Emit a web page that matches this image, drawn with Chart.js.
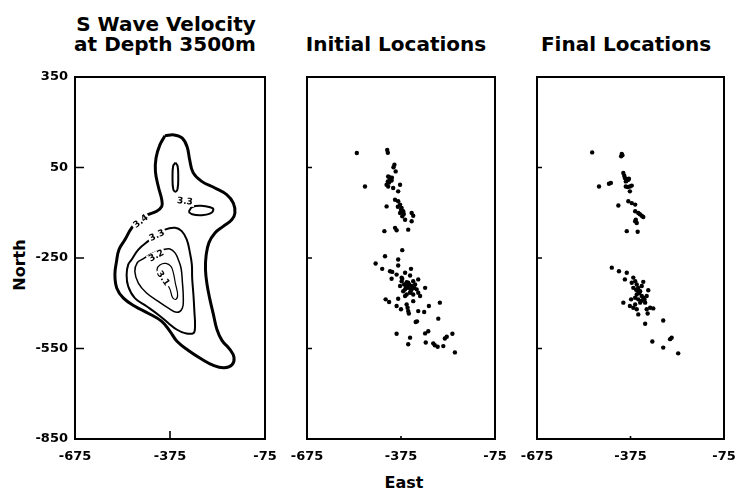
<!DOCTYPE html>
<html><head><meta charset="utf-8">
<script src="https://cdn.jsdelivr.net/npm/chart.js@4.4.1/dist/chart.umd.min.js"></script>
<style>
html,body{margin:0;padding:0;background:#fff;width:736px;height:492px;overflow:hidden;position:relative;}
canvas{position:absolute;left:0;top:0;}
.t{position:absolute;font-family:"DejaVu Sans";font-weight:bold;font-size:20px;line-height:20px;color:#000;text-align:center;white-space:nowrap;width:260px;}
.a{position:absolute;font-family:"DejaVu Sans";font-weight:bold;font-size:16px;line-height:16px;color:#000;white-space:nowrap;transform:translate(-50%,-50%);}
</style></head><body>
<div class="t" style="left:36px;top:14px">S Wave Velocity</div>
<div class="t" style="left:35px;top:34px">at Depth 3500m</div>
<div class="t" style="left:266px;top:34px">Initial Locations</div>
<div class="t" style="left:496px;top:34px">Final Locations</div>
<div class="a" style="left:20px;top:265px;transform:translate(-50%,-50%) rotate(-90deg)">North</div>
<div class="a" style="left:404px;top:483px">East</div>
<canvas id="c1" width="736" height="492"></canvas>
<canvas id="c2" width="736" height="492"></canvas>
<canvas id="c3" width="736" height="492"></canvas>
<script>
// ---- tick labels ----
const yTicks = [350, 50, -250, -550, -850];
const xTicks = [-675, -375, -75];
const yMarks = [50, -250, -550];
const xMarks = [-375];

// ---- contours of S wave velocity (East, North) ----
const contour34 = [[-391,155],[-362,158],[-337,148],[-321,119],[-313,76],[-302,33],[-275,4],[-233,-18],[-196,-40],[-175,-68],[-170,-101],[-180,-123],[-207,-145],[-233,-167],[-252,-199],[-261,-242],[-263,-288],[-258,-338],[-249,-387],[-238,-437],[-227,-486],[-211,-523],[-186,-553],[-173,-579],[-179,-604],[-204,-614],[-236,-607],[-277,-584],[-318,-556],[-353,-526],[-375,-493],[-401,-460],[-444,-433],[-486,-410],[-522,-383],[-543,-350],[-549,-305],[-544,-262],[-536,-222],[-517,-189],[-496,-150],[-470,-123],[-444,-106],[-417,-95],[-401,-79],[-401,-57],[-412,-13],[-421,36],[-419,82],[-407,125],[-391,155]];
const contour33 = [[-419,-176],[-391,-156],[-359,-150],[-338,-161],[-322,-189],[-312,-233],[-306,-272],[-305,-317],[-301,-372],[-298,-427],[-296,-477],[-301,-499],[-328,-499],[-354,-487],[-380,-466],[-412,-438],[-449,-410],[-486,-383],[-507,-344],[-512,-306],[-507,-272],[-496,-255],[-475,-222],[-444,-194],[-419,-176]];
const contour32 = [[-419,-229],[-396,-222],[-375,-220],[-359,-233],[-349,-255],[-340,-284],[-336,-328],[-333,-383],[-336,-416],[-353,-430],[-380,-416],[-412,-394],[-449,-366],[-475,-333],[-486,-295],[-478,-265],[-460,-253],[-438,-238],[-419,-229]];
const contour31 = [[-407,-318],[-416,-288],[-407,-273],[-388,-268],[-372,-278],[-364,-301],[-358,-334],[-351,-371],[-356,-387],[-367,-381],[-375,-354],[-388,-331],[-407,-318]];
const contour33a = [[-358,66],[-351,55],[-349,18],[-351,-20],[-358,-30],[-365,-20],[-367,18],[-365,55],[-358,66]];
const contour33b = [[-316,-97],[-305,-81],[-277,-77],[-248,-82],[-238,-89],[-249,-103],[-277,-108],[-305,-105],[-316,-97]];
const contourLabels = ['3.4','3.3','3.2','3.1','3.3'];
const contourLabelAt = [[-467,-129],[-416,-176],[-418,-243],[-397,-318],[-328,-63]];

// ---- initial event locations (East, North) ----
const initialLoc = [[-516,98],[-419,108],[-417,99],[-396,59],[-399,51],[-392,37],[-416,20],[-410,12],[-405,7],[-417,4],[-404,16],[-413,0],[-408,10],[-412,18],[-421,-7],[-416,-13],[-400,-18],[-378,-7],[-384,-29],[-490,-13],[-394,-57],[-384,-62],[-378,-73],[-373,-84],[-368,-95],[-375,-90],[-366,-104],[-378,-101],[-371,-112],[-362,-123],[-385,-80],[-341,-101],[-336,-110],[-421,-79],[-341,-128],[-352,-156],[-394,-150],[-389,-158],[-428,-161],
[-371,-224],[-426,-244],[-384,-255],[-456,-268],[-384,-275],[-435,-286],[-410,-294],[-403,-296],[-343,-286],[-389,-305],[-362,-299],[-405,-319],[-373,-315],[-346,-308],
[-373,-327],[-365,-338],[-357,-330],[-378,-343],[-352,-349],[-362,-354],[-341,-343],[-330,-338],[-325,-354],[-346,-365],[-357,-371],[-336,-371],[-320,-365],[-352,-332],[-368,-360],[-371,-319],[-341,-354],[-354,-343],[-336,-327],[-362,-376],[-349,-338],[-344,-360],[-359,-348],[-333,-349],
[-320,-321],[-298,-349],[-314,-376],[-424,-387],[-413,-396],[-384,-385],[-389,-409],[-375,-420],[-357,-404],[-354,-415],[-352,-426],[-350,-434],[-336,-393],[-320,-426],[-301,-429],[-286,-409],[-251,-398],[-256,-451],[-328,-462],[-324,-460],[-389,-501],[-346,-514],[-298,-500],[-288,-493],[-235,-517],[-229,-511],[-211,-501],[-352,-536],[-296,-530],[-272,-533],[-267,-539],[-258,-544],[-240,-542],[-203,-563]];

// ---- final event locations (East, North) ----
const finalLoc = [[-498,100],[-403,95],[-405,87],[-401,91],[-398,32],[-395,23],[-393,15],[-387,12],[-382,9],[-390,4],[-388,6],[-380,13],[-377,-13],[-371,-10],[-384,-15],[-390,-13],[-377,-29],[-476,-13],[-444,-4],[-438,-1],[-414,-76],[-382,-62],[-371,-68],[-360,-73],[-360,-95],[-350,-101],[-345,-105],[-339,-110],[-334,-114],[-360,-128],[-355,-134],[-358,-123],[-387,-161],[-352,-163],
[-435,-282],[-412,-294],[-387,-299],[-393,-321],[-366,-315],
[-371,-332],[-360,-327],[-355,-338],[-350,-349],[-366,-349],[-344,-360],[-355,-371],[-339,-376],[-350,-387],[-334,-382],[-323,-376],[-360,-382],[-344,-398],[-328,-398],[-350,-360],[-339,-343],[-347,-366],[-357,-355],[-340,-392],[-330,-388],
[-334,-329],[-318,-357],[-398,-398],[-373,-387],[-377,-409],[-366,-415],[-355,-420],[-350,-437],[-360,-404],[-323,-420],[-312,-415],[-302,-417],[-320,-434],[-328,-468],[-270,-457],[-305,-527],[-248,-519],[-243,-514],[-270,-547],[-222,-566]];

// ---- rendering ----
const FONT = 'DejaVu Sans';
const toXY = arr => arr.map(p => ({x: p[0], y: p[1]}));

const framePlugin = {
  id: 'frame',
  afterDraw(chart, args, o) {
    const a = chart.chartArea, ctx = chart.ctx;
    const xs = chart.scales.x, ys = chart.scales.y;
    ctx.save();
    ctx.strokeStyle = '#000';
    ctx.lineWidth = 2;
    ctx.strokeRect(a.left, a.top, a.right - a.left, a.bottom - a.top);
    ctx.lineWidth = 1.6;
    ctx.beginPath();
    yMarks.forEach(v => { const py = ys.getPixelForValue(v); ctx.moveTo(a.left, py); ctx.lineTo(a.left + o.yLen, py); });
    xMarks.forEach(v => { const px = xs.getPixelForValue(v); ctx.moveTo(px, a.bottom); ctx.lineTo(px, a.bottom - o.xLen); });
    ctx.stroke();
    ctx.restore();
  }
};

const labelRot = [-38, -25, -28, 55, 6];
const labelPlugin = {
  id: 'clabels',
  afterDatasetsDraw(chart) {
    const ctx = chart.ctx, xs = chart.scales.x, ys = chart.scales.y;
    ctx.save();
    ctx.font = 'bold 9px "' + FONT + '"';
    ctx.textAlign = 'center';
    ctx.textBaseline = 'middle';
    contourLabels.forEach((t, i) => {
      const px = xs.getPixelForValue(contourLabelAt[i][0]);
      const py = ys.getPixelForValue(contourLabelAt[i][1]);
      ctx.save();
      ctx.translate(px, py);
      ctx.rotate(labelRot[i] * Math.PI / 180);
      const w = ctx.measureText(t).width;
      ctx.fillStyle = '#fff';
      ctx.fillRect(-w/2 - 1.5, -4.5, w + 3, 9);
      ctx.fillStyle = '#000';
      ctx.fillText(t, 0, 0);
      ctx.restore();
    });
    ctx.restore();
  }
};

function panel(id, datasets, padL, padR, showY, tickLens, extraPlugins) {
  return new Chart(document.getElementById(id), {
    type: 'scatter',
    data: { datasets },
    options: {
      responsive: false, animation: false, devicePixelRatio: 1,
      layout: { padding: { left: padL, right: padR, top: 77, bottom: 0 } },
      plugins: { legend: { display: false }, tooltip: { enabled: false }, frame: tickLens },
      scales: {
        x: {
          type: 'linear', min: -675, max: -75,
          afterBuildTicks: s => { s.ticks = xTicks.map(v => ({ value: v })); },
          afterFit: s => { s.height = 53; s.paddingLeft = 0; s.paddingRight = 0; },
          grid: { display: false, drawTicks: false }, border: { display: false },
          ticks: { color: '#000', padding: 10, maxRotation: 0, autoSkip: false, font: { family: FONT, weight: 'bold', size: 13 } }
        },
        y: {
          type: 'linear', min: -850, max: 350, display: showY,
          afterBuildTicks: s => { s.ticks = yTicks.map(v => ({ value: v })); },
          afterFit: s => { s.width = showY ? 75 : 0; s.paddingTop = 0; s.paddingBottom = 0; },
          grid: { display: false, drawTicks: false }, border: { display: false },
          ticks: { color: '#000', padding: 7, autoSkip: false, font: { family: FONT, weight: 'bold', size: 13 } }
        }
      }
    },
    plugins: [framePlugin].concat(extraPlugins || [])
  });
}

const line = (arr, w) => ({ data: toXY(arr), showLine: true, pointRadius: 0, borderColor: '#000', borderWidth: w, tension: 0.4, fill: false });
const dots = arr => ({ data: toXY(arr), showLine: false, pointRadius: 2.2, pointBackgroundColor: '#000', pointBorderWidth: 0, borderColor: '#000' });

panel('c1', [
  line(contour34, 3), line(contour33, 2), line(contour32, 1.5), line(contour31, 1.2),
  line(contour33a, 2), line(contour33b, 2)
], 0, 471, true, { yLen: 9, xLen: 8 }, [labelPlugin]);
panel('c2', [dots(initialLoc)], 307, 241, false, { yLen: 5, xLen: 3 });
panel('c3', [dots(finalLoc)], 537, 12, false, { yLen: 5, xLen: 3 });
</script>
</body></html>
